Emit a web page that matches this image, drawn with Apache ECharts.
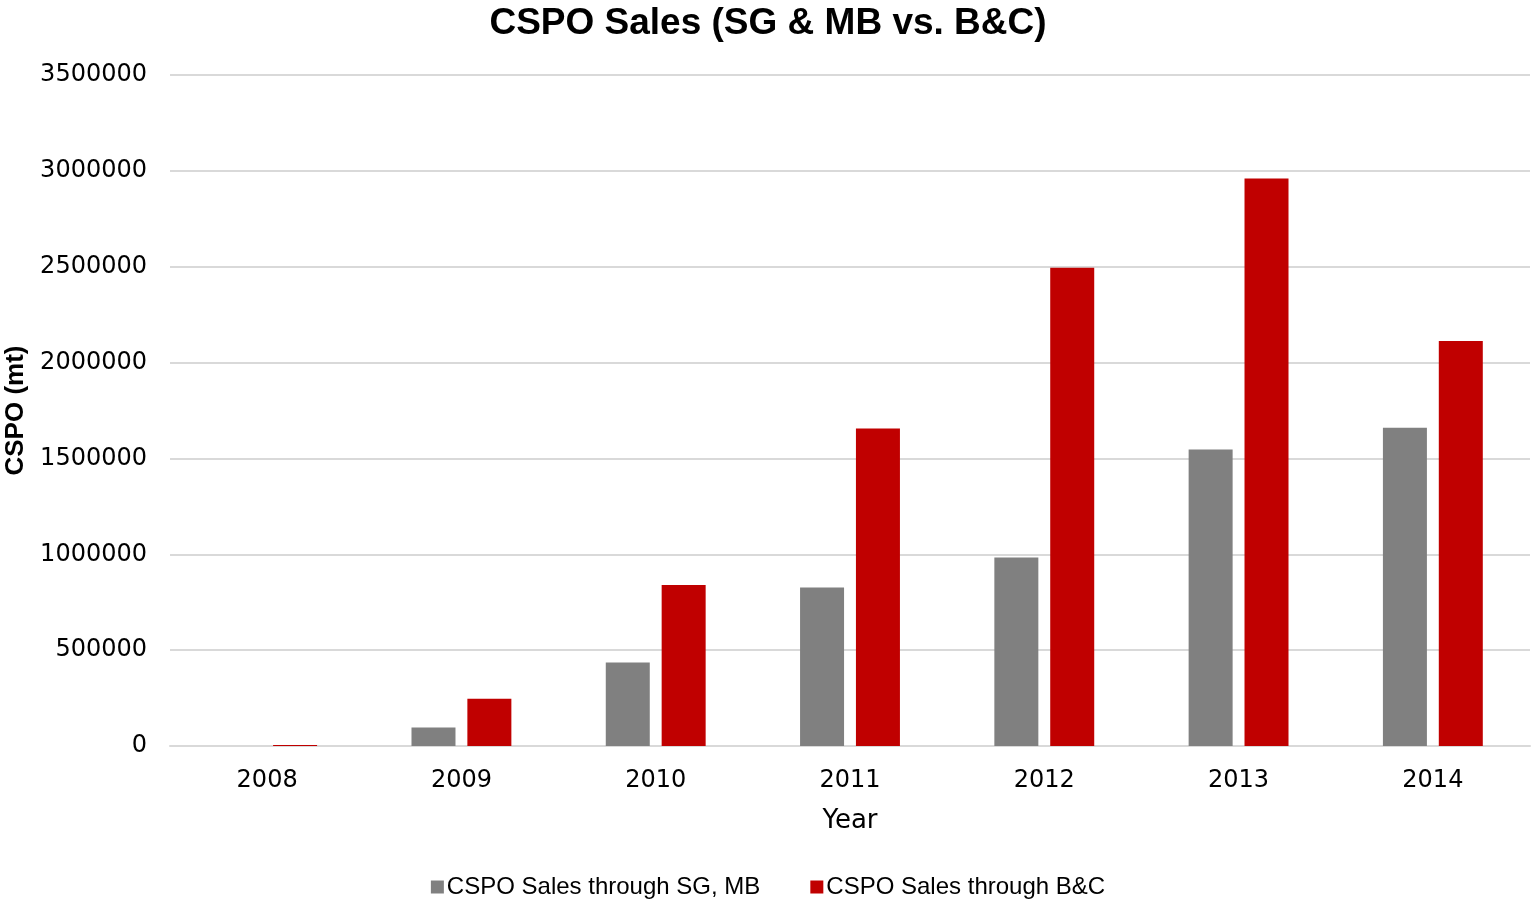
<!DOCTYPE html>
<html><head><meta charset="utf-8">
<script src="https://cdn.jsdelivr.net/npm/echarts@6/dist/echarts.min.js"></script>
<style>html,body{margin:0;padding:0;background:#fff}#c{width:1536px;height:901px}</style>
</head><body><div id="c"></div>
<script>
const years = ['2008','2009','2010','2011','2012','2013','2014'];
const sgMb = [0, 96500, 435000, 827000, 983000, 1547000, 1660000];
const bc = [5000, 246000, 840000, 1656000, 2494000, 2960000, 2113000];
const seriesNames = ['CSPO Sales through SG, MB', 'CSPO Sales through B&C'];

const chart = echarts.init(document.getElementById('c'));
chart.setOption({
  animation: false,
  title: {
    text: 'CSPO Sales (SG & MB vs. B&C)',
    left: 'center', top: 0,
    textStyle: {fontFamily: 'Liberation Sans', fontWeight: 'bold', fontSize: 37, color: '#000'}
  },
  legend: {
    bottom: -3, left: 'center',
    itemWidth: 13, itemHeight: 13, itemGap: 50,
    icon: 'rect',
    textStyle: {fontFamily: 'Liberation Sans', fontSize: 24, color: '#000', padding: [0,0,0,-2]},
    data: seriesNames
  },
  grid: {left: 170, right: 6, top: 75, bottom: 155, outerBoundsMode: 'none'},
  xAxis: {
    type: 'category', data: years,
    name: 'Year', nameLocation: 'middle', nameGap: 62,
    nameTextStyle: {fontFamily: 'DejaVu Sans', fontSize: 26, color: '#000'},
    axisLine: {lineStyle: {color: '#d9d9d9', width: 2}},
    axisTick: {show: false},
    axisLabel: {fontFamily: 'DejaVu Sans', fontSize: 24, color: '#000', margin: 23}
  },
  yAxis: {
    type: 'value', min: 0, max: 3500000, interval: 500000,
    name: 'CSPO (mt)', nameLocation: 'middle', nameGap: 140, nameRotate: 90,
    nameTextStyle: {fontFamily: 'Liberation Sans', fontWeight: 'bold', fontSize: 26, color: '#000'},
    axisLine: {show: false}, axisTick: {show: false},
    splitLine: {lineStyle: {color: '#d9d9d9', width: 2}},
    axisLabel: {fontFamily: 'DejaVu Sans', fontSize: 24, color: '#000', margin: 23,
      formatter: v => String(v)}
  },
  series: [
    {name: seriesNames[0], type: 'bar', data: sgMb, barWidth: 44, barGap: '27%',
     itemStyle: {color: '#808080'}},
    {name: seriesNames[1], type: 'bar', data: bc, barWidth: 44,
     itemStyle: {color: '#c00000'}}
  ]
});
</script></body></html>
